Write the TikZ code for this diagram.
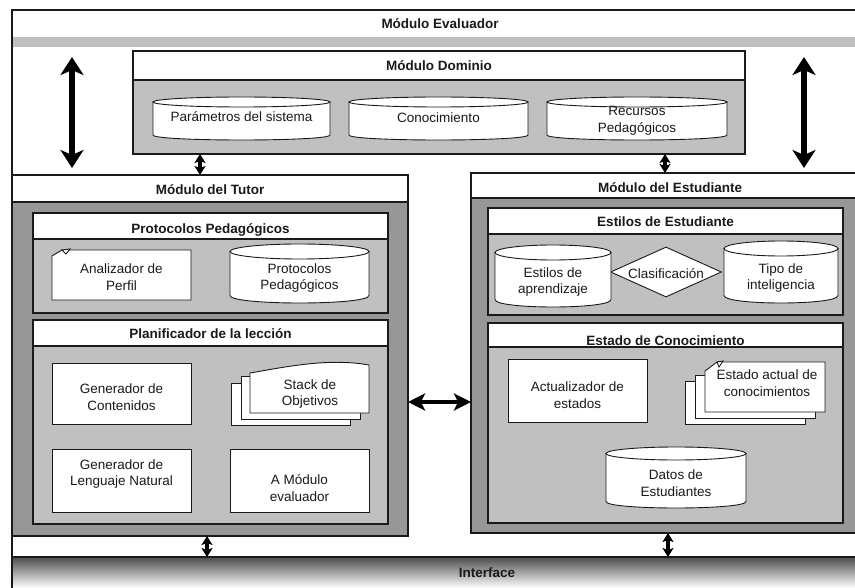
\documentclass[tikz,border=0pt]{standalone}
\usepackage{fontspec}
\setmainfont{Liberation Sans}
\usetikzlibrary{arrows.meta,shapes.geometric}

\definecolor{panelgray}{HTML}{C0C0C0}
\definecolor{deepgray}{HTML}{979797}
\definecolor{ink}{HTML}{1A1A1A}

\tikzset{
  outline/.style={draw=ink, line width=1.1pt},
  shapeline/.style={draw=ink, line width=0.9pt},
  heading/.style={font=\fontsize{13.5}{16}\selectfont\bfseries, text=ink, inner sep=0pt, anchor=base},
  caption/.style={font=\fontsize{13.5}{16.5}\selectfont, text=ink, align=center, inner sep=0pt},
  frame/.style={outline, inner sep=0pt, outer sep=0pt, anchor=north west},
  card/.style={shapeline, fill=white, inner sep=0pt, outer sep=0pt, anchor=north west},
  wide/.style={line width=6pt, {Stealth[length=18pt,width=23pt,inset=5pt]}-{Stealth[length=18pt,width=23pt,inset=5pt]}},
  link/.style={line width=3.5pt, {Stealth[length=9pt,width=11pt,inset=2pt]}-{Stealth[length=9pt,width=11pt,inset=2pt]}},
  side/.style={line width=4pt, {Stealth[length=17pt,width=17pt,inset=4pt]}-{Stealth[length=17pt,width=17pt,inset=4pt]}},
}

% panel with white title bar: name, x1, y1, x2, y2, bar bottom, body fill, title baseline, title
\newcommand\panel[9]{%
  \filldraw[outline, fill=white] (#2,#3) rectangle (#4,#6);
  \node[heading] (#1-title) at ({(#2+#4)/2},#8) {#9};
  \filldraw[outline, fill=#7] (#2,#6) rectangle (#4,#5);
  \node[frame, minimum width={#4-#2}, minimum height={#5-#3}] (#1) at (#2,#3) {};
}

% data store drawn as a cylinder: name, x1, y1, x2, y2, cap radius, text y, text
\newcommand\store[8]{%
  \filldraw[shapeline, fill=white] (#2,#3+#6) -- (#2,#5-#6)
     .. controls (#2,#5+#6/3) and (#4,#5+#6/3) .. (#4,#5-#6) -- (#4,#3+#6) -- cycle;
  \filldraw[shapeline, fill=white] ({(#2+#4)/2},#3+#6) ellipse [x radius={(#4-#2)/2}, y radius=#6];
  \node[caption] (#1) at ({(#2+#4)/2},#7) {#8};
}

\begin{document}
\begin{tikzpicture}[x=1pt,y=1pt,yscale=-1]
\useasboundingbox (0,0) rectangle (855,588);
\clip (0,0) rectangle (855,588);
\fill[white] (0,0) rectangle (855,588);

% evaluator frame
\fill[white] (12,10) rectangle (900,557);
\fill[panelgray] (12,37) rectangle (900,47);
\node[frame, minimum width=888, minimum height=547] (evaluador) at (12,10) {};
\node[heading] (evaluador-title) at (440,29) {Módulo Evaluador};

% domain module
\panel{dominio}{133}{51}{745}{154}{80}{panelgray}{71}{Módulo Dominio}
\store{parametros}{153}{97}{330}{140}{5}{117}{Parámetros del sistema}
\store{conocimiento}{349}{97}{528}{140}{5}{118}{Conocimiento}
\store{recursos}{547}{97}{727}{140}{5}{121}{Recursos\\Pedagógicos}

% tutor module
\panel{tutor}{12}{175}{408}{536}{202}{deepgray}{195}{Módulo del Tutor}
\panel{protocolos}{33}{213}{388}{313}{239}{panelgray}{234}{Protocolos Pedagógicos}
\filldraw[shapeline, fill=white] (52,300) -- (52,256) -- (62,250) -- (191,250) -- (191,300) -- cycle;
\filldraw[shapeline, fill=white] (62,250) -- (70,249) -- (66,254) -- cycle;
\node[caption] (analizador) at (121.5,277) {Analizador de\\Perfil};
\store{protocolos-db}{230}{244}{369}{303}{7.5}{278}{Protocolos\\Pedagógicos}

\panel{planificador}{33}{320}{388}{524}{346}{panelgray}{338}{Planificador de la lección}
\node[card, minimum width=139, minimum height=61] (gencont) at (52,363) {};
\node[caption] (gencont-text) at (121.5,397) {Generador de\\Contenidos};
\filldraw[shapeline, fill=white] (231,383) rectangle (350,425);
\filldraw[shapeline, fill=white] (241,376) rectangle (360,419);
\filldraw[shapeline, fill=white] (250,373) .. controls (290,366) and (330,358) .. (369,365)
   -- (369,413) -- (250,413) -- cycle;
\node[caption] (stack) at (310,394) {Stack de\\Objetivos};
\node[card, minimum width=139, minimum height=63] (genlen) at (52,449) {};
\node[caption] (genlen-text) at (121.5,474) {Generador de\\Lenguaje Natural};
\node[card, minimum width=139, minimum height=63] (amodulo) at (230,449) {};
\node[caption] (amodulo-text) at (299.5,488) {A Módulo\\evaluador};

% student module
\panel{estudiante}{471}{173}{869}{533}{198}{deepgray}{193}{Módulo del Estudiante}
\panel{estilos}{488}{208}{843}{315}{234}{panelgray}{227}{Estilos de Estudiante}
\node[diamond, shapeline, fill=white, minimum width=111, minimum height=50, inner sep=0pt] (clasificacion) at (666,272) {};
\store{aprendizaje}{495}{245}{611}{307}{7.5}{282}{Estilos de\\aprendizaje}
\store{inteligencia}{724}{241}{838}{303}{7.5}{278}{Tipo de\\inteligencia}
\node[caption] (clasificacion-text) at (666,274) {Clasificación};

\panel{estado}{488}{323}{843}{523}{347}{panelgray}{345}{Estado de Conocimiento}
\node[card, minimum width=139, minimum height=63] (actualizador) at (508,359) {};
\node[caption] (actualizador-text) at (577.5,395) {Actualizador de\\estados};
\filldraw[shapeline, fill=white] (685,381) rectangle (805,424);
\filldraw[shapeline, fill=white] (695,375) rectangle (815,418);
\filldraw[shapeline, fill=white] (705,412) -- (705,371) -- (717,362) -- (825,362) -- (825,412) -- cycle;
\filldraw[shapeline, fill=white] (717,362) -- (723,361) -- (719,367) -- cycle;
\node[caption] (estado-actual) at (767,383) {Estado actual de\\conocimientos};
\store{datos}{606}{447}{746}{508}{6.5}{483}{Datos de\\Estudiantes}

% interface bar
\foreach \i in {0,...,31}{
  \pgfmathsetmacro\tone{70*(1-\i/31)}
  \fill[black!\tone] (12,557+\i) rectangle (900,558.2+\i);
}
\draw[outline] (12,557) -- (900,557);
\draw[outline] (12,557) -- (12,600);
\node[heading] (interface) at (487,577) {Interface};

% connectors
\coordinate (evL-top) at (72,57);   \coordinate (evL-bot) at (72,168);
\coordinate (evR-top) at (804,57);  \coordinate (evR-bot) at (804,168);
\draw[wide] (evL-top) -- (evL-bot);
\draw[wide] (evR-top) -- (evR-bot);

\coordinate (dom-tut) at (200,154);  \coordinate (tut-dom) at (200,175);
\coordinate (dom-est) at (665,154);  \coordinate (est-dom) at (665,173);
\draw[link] (dom-tut) -- (tut-dom);
\draw[link] (dom-est) -- (est-dom);

\coordinate (tut-int) at (207,536);  \coordinate (int-tut) at (207,557);
\coordinate (est-int) at (668,533);  \coordinate (int-est) at (668,557);
\draw[link] (tut-int) -- (int-tut);
\draw[link] (est-int) -- (int-est);

\coordinate (tut-est) at (408,402);  \coordinate (est-tut) at (471,402);
\draw[side] (tut-est) -- (est-tut);
\end{tikzpicture}
\end{document}
